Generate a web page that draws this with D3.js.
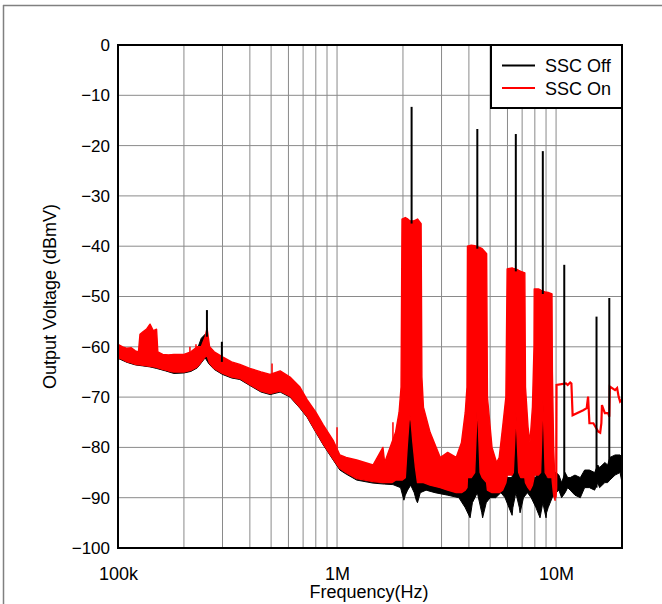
<!DOCTYPE html>
<html><head><meta charset="utf-8">
<script src="https://cdn.jsdelivr.net/npm/d3@7/dist/d3.min.js"></script>
<style>body{margin:0;background:#fff}svg{display:block}text{font-family:"Liberation Sans",Arial,sans-serif;fill:#000}</style>
</head><body><svg id="c" width="662" height="604"></svg>
<script>
// ---- axis ticks ----
const xTickValues = [1e5, 1e6, 1e7];
const xTickLabels = ["100k", "1M", "10M"];
const xMinorTicks = [2e5,3e5,4e5,5e5,6e5,7e5,8e5,9e5,2e6,3e6,4e6,5e6,6e6,7e6,8e6,9e6];
const yTickValues = [0,-10,-20,-30,-40,-50,-60,-70,-80,-90,-100];

// ---- SSC Off (black): envelope, MHz / dBmV ----
const offF  = [0.100,0.110,0.120,0.130,0.140,0.150,0.165,0.180,0.200,0.215,0.230,0.240,0.250,0.260,0.275,0.300,0.330,0.360,0.400,0.450,0.495,0.550,0.610,0.677,0.730,0.800,0.865,0.960,1.03,1.10,1.23,1.46,1.65,1.80,
  1.95,2.02,2.05,2.10,2.17,2.25,2.30,2.33,2.40,2.55,2.80,3.20,3.60,3.85,4.05,4.15,4.37,4.58,4.62,4.80,5.00,5.30,5.60,5.85,6.10,6.30,6.35,6.55,6.80,6.85,7.10,7.40,7.70,8.10,8.45,8.70,9.00,9.05,9.20,9.60,10.0,
  10.3,10.6,11.0,11.3,11.6,12.2,12.9,13.5,14.2,15.0,15.5,15.8,16.7,17.2,17.6,18.6,19.6,20.0];
const offHi = [-60.5,-61.2,-61.5,-62.0,-62.3,-62.5,-62.3,-62.3,-62.0,-61.5,-60.5,-58.3,-57.5,-60.5,-62.0,-62.8,-63.5,-64.0,-65.0,-65.8,-66.2,-65.5,-66.8,-68.8,-71.2,-73.8,-76.2,-79.3,-82.2,-82.8,-83.3,-84.2,-84.0,-84.5,
  -85,-86,-73,-73,-73,-73,-73,-86,-85,-85,-85.5,-86,-86,-86,-86,-70,-70,-70,-86,-86,-86,-86.5,-86,-86,-86,-86,-72,-72,-72,-86,-86,-86,-86,-86,-69,-69,-69,-86,-86,-85,-85,
  -85.5,-87,-85,-86,-86,-85.5,-86,-84.5,-84.5,-85,-83.5,-84,-83,-83.5,-82,-81.5,-81.5,-82];
const offLo = [-62.3,-63.1,-63.6,-63.8,-64.0,-64.3,-64.8,-65.3,-65.2,-64.9,-64.2,-63.2,-62.2,-63.4,-64.5,-65.5,-66.2,-66.5,-67.7,-69.0,-69.5,-69.0,-70.0,-72.2,-74.0,-77.0,-79.5,-82.5,-84.5,-85.3,-86.5,-87.1,-87.3,-87.4,
  -88,-90.5,-89.5,-88.5,-87.5,-89,-90.5,-91,-89,-88.5,-89,-89.5,-90,-92,-94,-91,-89,-93,-94,-91,-90,-90,-89,-90,-92,-93.5,-92,-89,-92,-93,-90,-89,-90,-92,-94,-91,-94,-93,-92,-90,-89,
  -88.5,-90,-89,-88,-88.5,-89.5,-90,-88,-88,-88.5,-87,-88,-87,-87,-86.5,-85.5,-85,-87];
// SSC Off harmonic spikes
const spikeF    = [0.2547,0.298,2.19,4.37,6.55,8.70,10.9,15.3,17.5];
const spikeTop  = [-52.7,-59.0,-12.3,-16.7,-17.7,-21.1,-43.7,-54.0,-50.3];
const spikeBase = [-58,-63,-35.5,-40.5,-45,-49.5,-87,-88,-86];

// ---- SSC On (red): envelope ----
const onF  = [0.100,0.105,0.110,0.115,0.120,0.124,0.126,0.130,0.135,0.140,0.145,0.150,0.152,0.160,0.170,0.180,0.200,0.215,0.230,0.240,0.250,0.255,0.262,0.275,0.300,0.330,0.360,0.400,0.450,0.495,0.550,0.610,0.677,0.730,0.800,0.865,0.960,1.03,1.10,1.23,1.46,1.62,1.65,1.78,1.85,1.92,1.96,
  1.98,2.05,2.09,2.13,2.15,2.18,2.22,2.28,2.33,2.42,
  2.44,2.48,2.66,2.96,3.20,3.50,3.70,3.85,3.92,
  3.94,4.10,4.25,4.33,4.37,4.42,4.50,4.60,4.82,
  4.86,5.10,5.35,5.50,5.70,5.90,
  5.98,6.30,6.38,6.50,6.55,6.62,6.75,6.90,7.20,
  7.25,7.45,7.60,7.80,7.93,
  7.95,8.30,8.50,8.63,8.70,8.78,8.92,9.20,9.58,
  9.62,9.75,9.90];
const onHi = [-59.5,-60.0,-60.3,-60.2,-60.8,-61.0,-57.5,-57.0,-56.5,-55.5,-56.8,-56.5,-61.0,-61.5,-61.6,-61.5,-61.5,-61.0,-60.0,-60.0,-58.0,-56.3,-60.0,-61.0,-62.0,-63.0,-63.5,-64.3,-65.0,-65.5,-64.8,-66.0,-68.0,-70.5,-73.0,-75.5,-78.6,-81.5,-82.0,-82.5,-83.5,-80.0,-83.0,-79.0,-77.0,-73.0,-68,
  -34.6,-34.3,-34.5,-34.8,-34.9,-35.0,-35.0,-34.8,-34.6,-35.5,
  -66,-72,-77,-82,-81,-82,-79,-73,-68,
  -40,-39.8,-39.9,-40,-40,-40.2,-40.3,-40.5,-41.5,
  -70,-80,-83,-82,-76,-70,
  -44.5,-44.3,-44.4,-44.5,-44.6,-44.6,-44.8,-45,-45.3,
  -68,-76,-79,-72,-60,
  -48.5,-48.5,-48.7,-48.9,-49,-49,-49.1,-49.2,-49.5,
  -65,-80,-88];
const onLo = [-62.2,-62.5,-63.0,-63.2,-63.5,-63.6,-63.6,-63.7,-63.8,-63.9,-64.0,-64.1,-64.2,-64.5,-64.8,-65.0,-65.0,-64.7,-64.0,-63.0,-62.0,-61.8,-63.3,-64.3,-65.3,-66.0,-66.3,-67.5,-68.8,-69.3,-68.8,-69.8,-72.0,-73.8,-76.8,-79.3,-82.3,-84.2,-85.0,-86.2,-86.8,-87.0,-87.0,-87.0,-86.5,-86.5,-86.5,
  -86.5,-86,-80,-75,-73.5,-75,-79,-84,-87,-87,
  -87,-87,-87.5,-88,-88.5,-89,-89,-88.5,-88,
  -86,-86,-85,-76,-71,-76,-85,-86,-87,
  -88.5,-89,-89,-89,-88.5,-87,
  -85.5,-85.5,-85,-77,-73,-77,-85,-86,-86,
  -87,-88,-88.5,-87.5,-86,
  -85.5,-85.5,-85,-76,-70.6,-75,-85,-86,-86,
  -87,-89.5,-90.5];
// SSC On above 10 MHz (single trace)
const stepF = [9.95,10.02,10.05,11.1,11.3,11.6,11.75,11.9,13.3,13.8,14.0,14.2,14.8,15.6,15.9,16.1,16.2,16.7,17.3,17.5,17.6,18.6,19.0,19.3,19.6,20.0];
const stepV = [-90,-88,-67.6,-67.3,-67.6,-67.1,-67.3,-73.6,-72.6,-72.2,-69.9,-75.2,-75.2,-76.9,-77.1,-75.2,-71.6,-73.2,-73.2,-73.9,-67.9,-68.6,-68.2,-69.9,-70.9,-70.5];
// SSC On isolated spikes
const onSpikeF    = [0.213,0.227,0.505,1.0,1.80];
const onSpikeTop  = [-60.0,-59.5,-63.3,-76.0,-75.0];
const onSpikeBase = [-62,-62,-67,-82,-82];

const seriesNames = ["SSC Off","SSC On"];
const seriesColors = ["#000000","#ff0000"];

// ---- layout ----
const svg = d3.select("#c");
const L = 118, R = 622, T = 45, B = 548;
const x = d3.scaleLog().domain([1e5, 2e7]).range([L, R]);
const y = d3.scaleLinear().domain([-100, 0]).range([B, T]);
const M = 1e6;
const FONT = "Liberation Sans, Arial, sans-serif";

// outer frame
svg.append("line").attr("x1",3).attr("x2",662).attr("y1",5.5).attr("y2",5.5).attr("stroke","#808080").attr("stroke-width",1.5);
svg.append("line").attr("x1",3.5).attr("x2",3.5).attr("y1",5).attr("y2",604).attr("stroke","#808080").attr("stroke-width",1.5);

// grid
const g = svg.append("g");
g.selectAll(".vg").data(xMinorTicks.concat(xTickValues)).enter().append("line")
  .attr("x1",d=>x(d)).attr("x2",d=>x(d)).attr("y1",T).attr("y2",B)
  .attr("stroke","#8a8a8a").attr("stroke-width",1);
g.selectAll(".hg").data(yTickValues).enter().append("line")
  .attr("x1",L).attr("x2",R).attr("y1",d=>y(d)).attr("y2",d=>y(d))
  .attr("stroke","#8a8a8a").attr("stroke-width",1);

const plot = svg.append("g");
function band(F, H, Lo, color, sw){
  const pts = F.map((f,i)=>({f:f*M, h:H[i], l:Lo[i]}));
  const area = d3.area().x(d=>x(d.f)).y0(d=>y(d.l)).y1(d=>y(d.h));
  plot.append("path").datum(pts).attr("d",area).attr("fill",color).attr("stroke",color).attr("stroke-width",sw).attr("stroke-linejoin","round");
}
function spikes(F, Top, Base, color, w){
  plot.selectAll(null).data(F.map((f,i)=>({f:f*M,t:Top[i],b:Base[i]}))).enter().append("line")
    .attr("x1",d=>x(d.f)).attr("x2",d=>x(d.f)).attr("y1",d=>y(d.t)).attr("y2",d=>y(d.b))
    .attr("stroke",color).attr("stroke-width",w);
}
band(offF, offHi, offLo, seriesColors[0], 1);
band(onF, onHi, onLo, seriesColors[1], 1.4);
spikes(onSpikeF, onSpikeTop, onSpikeBase, seriesColors[1], 1.5);
const stepPts = stepF.map((f,i)=>({f:f*M, v:stepV[i]}));
plot.append("path").datum(stepPts).attr("d", d3.line().x(d=>x(d.f)).y(d=>y(d.v)))
  .attr("fill","none").attr("stroke",seriesColors[1]).attr("stroke-width",2.2);
spikes(spikeF, spikeTop, spikeBase, seriesColors[0], 2);

// plot border
svg.append("rect").attr("x",L).attr("y",T).attr("width",R-L).attr("height",B-T)
  .attr("fill","none").attr("stroke","#000").attr("stroke-width",2);

// axes labels
const yAxis = d3.axisLeft(y).tickValues(yTickValues).tickSize(0).tickPadding(8);
const ya = svg.append("g").attr("transform",`translate(${L},0)`).call(yAxis);
ya.select(".domain").remove();
ya.selectAll("text").attr("font-size",17).attr("font-family",FONT).attr("fill","#000");
const xAxis = d3.axisBottom(x).tickValues(xTickValues).tickFormat((d,i)=>xTickLabels[i]).tickSize(0).tickPadding(19);
const xa = svg.append("g").attr("transform",`translate(0,${B})`).call(xAxis);
xa.select(".domain").remove();
xa.selectAll("text").attr("font-size",18).attr("font-family",FONT).attr("fill","#000");

svg.append("text").attr("x",369).attr("y",598).attr("text-anchor","middle").attr("font-size",18).text("Frequency(Hz)");
svg.append("text").attr("transform",`translate(55.5,${(T+B)/2}) rotate(-90)`).attr("text-anchor","middle").attr("font-size",18).text("Output Voltage (dBmV)");

// legend
const lg = svg.append("g");
lg.append("rect").attr("x",491).attr("y",T).attr("width",R-491).attr("height",63).attr("fill","#fff").attr("stroke","#000").attr("stroke-width",2);
seriesNames.forEach((n,i)=>{
  const yy = 65.5 + i*22.5;
  lg.append("line").attr("x1",502).attr("x2",535).attr("y1",yy).attr("y2",yy).attr("stroke",seriesColors[i]).attr("stroke-width",2);
  lg.append("text").attr("x",545).attr("y",yy+6.5).attr("font-size",18).text(n);
});
</script></body></html>
